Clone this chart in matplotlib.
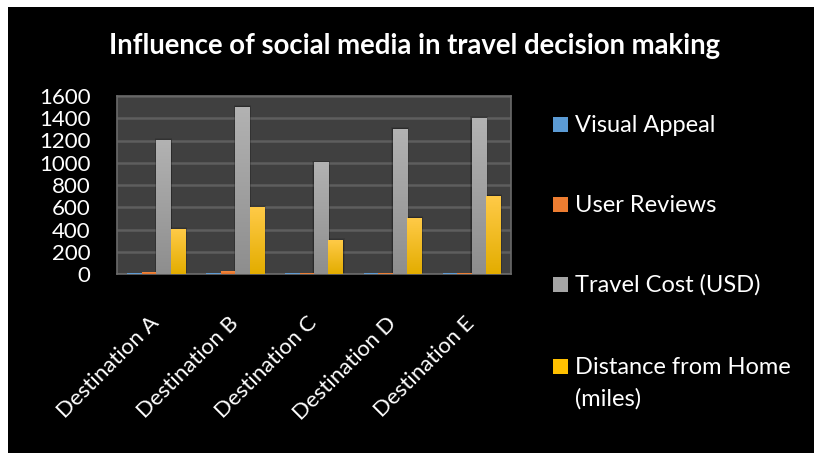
import matplotlib.pyplot as plt
import numpy as np
from matplotlib.colors import LinearSegmentedColormap
from matplotlib.patches import Rectangle

plt.rcParams["font.family"] = ["Lato", "DejaVu Sans"]

destinations = ["Destination A", "Destination B", "Destination C",
                "Destination D", "Destination E"]
series_names = ["Visual Appeal", "User Reviews", "Travel Cost (USD)",
                "Distance from Home\n(miles)"]
visual_appeal = [8, 8, 7, 7, 7]
user_reviews = [16, 18, 8, 6, 6]
travel_cost = [1200, 1500, 1000, 1300, 1400]
distance = [400, 600, 300, 500, 700]
yticks = [0, 200, 400, 600, 800, 1000, 1200, 1400, 1600]

series = [visual_appeal, user_reviews, travel_cost, distance]
# (top colour, bottom colour) for each series gradient
grads = [("#6aa5dc", "#4f8cc6"), ("#f58a3e", "#e0702a"),
         ("#b2b2b2", "#8e8e8e"), ("#ffca47", "#e3ad00")]
legend_colors = ["#5b9bd5", "#ed7d31", "#a5a5a5", "#ffc000"]

W, H = 814, 453
fig = plt.figure(figsize=(W / 100, H / 100), dpi=100)
fig.patch.set_facecolor("white")
fig.add_artist(Rectangle((8 / W, 0), 1, 1 - 7 / H, transform=fig.transFigure,
                         facecolor="black", edgecolor="none", zorder=-10))

ax = fig.add_axes([117 / W, 1 - 274 / H, (511 - 117) / W, (274 - 96) / H])
ax.set_facecolor("#404040")
for side in ax.spines.values():
    side.set_color("#6a6a6a")
    side.set_linewidth(1.2)

x = np.arange(len(destinations))
w = 0.184
offsets = [-1.5, -0.5, 0.5, 1.5]
grad = np.linspace(1, 0, 100).reshape(-1, 1)

for vals, off, (top, bot) in zip(series, offsets, grads):
    cmap = LinearSegmentedColormap.from_list("g", [bot, top])
    for xi, v in zip(x, vals):
        x0 = xi + off * w - w / 2
        # soft shadow around the bar
        if v > 50:
            for k, a in [(0.05, 0.10), (0.035, 0.12), (0.02, 0.15)]:
                ax.add_patch(Rectangle((x0 - k * 0.4, 0), w + k * 0.8, v + k * 400,
                                       facecolor="black", alpha=a,
                                       edgecolor="none", zorder=2))
        ax.imshow(grad, extent=[x0, x0 + w, 0, v], aspect="auto", cmap=cmap,
                  vmin=0, vmax=1, zorder=3)

ax.set_xlim(-0.5, len(destinations) - 0.5)
ax.set_ylim(0, 1600)
ax.set_yticks(yticks)
ax.set_yticklabels([str(t) for t in yticks])
ax.yaxis.grid(True, color="#5e5e5e", linewidth=1.8)
ax.set_axisbelow(True)
ax.tick_params(axis="y", length=0, pad=19, labelsize=16, labelcolor="white")
ax.set_xticks(x)
ax.set_xticklabels(destinations, rotation=45, ha="right",
                   rotation_mode="anchor", va="center")
ax.tick_params(axis="x", length=0, pad=33, labelsize=16, labelcolor="white")

fig.text(415 / W, 1 - 46 / H, "Influence of social media in travel decision making",
         ha="center", va="center", color="white", fontsize=19.8, fontweight="bold")

# legend drawn by hand to match the wide spacing
legend_y = [125, 205, 285, 367]
for name, col, yy in zip(series_names, legend_colors, legend_y):
    fig.add_artist(Rectangle((553 / W, 1 - (yy + 7) / H), 15 / W, 15 / H,
                             transform=fig.transFigure, facecolor=col,
                             edgecolor="none"))
    first, *rest = name.split("\n")
    fig.text(575 / W, 1 - yy / H, first, ha="left", va="center",
             color="white", fontsize=17)
    for i, line in enumerate(rest):
        fig.text(575 / W, 1 - (yy + 32 * (i + 1)) / H, line, ha="left",
                 va="center", color="white", fontsize=17)

fig.savefig("out.png", dpi=100, facecolor=fig.get_facecolor())
